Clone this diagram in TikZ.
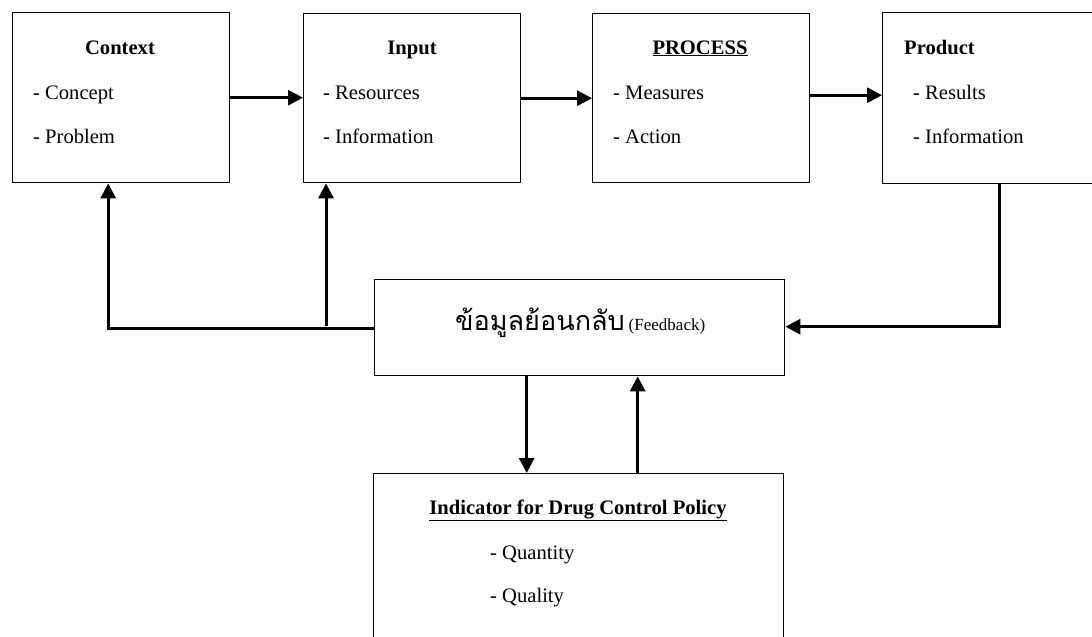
\documentclass[tikz,border=0pt]{standalone}
\usepackage{fontspec}
\setmainfont{Liberation Serif}
\newfontfamily\thaifont[Script=Thai]{Loma}
\usetikzlibrary{arrows.meta}
\begin{document}
\begin{tikzpicture}[x=1pt,y=-1pt,
  box/.style={draw=black, line width=1.4pt, fill=white, inner sep=0pt, anchor=north west},
  arr/.style={line width=3pt, -{Triangle[length=15pt,width=15pt]}},
  lbl/.style={inner sep=0pt, font=\fontsize{20.6}{24}\selectfont},
  ttl/.style={inner sep=0pt, font=\fontsize{20.6}{24}\selectfont\bfseries},
  item/.style={lbl, anchor=base west}
]
\useasboundingbox (0,0) rectangle (1092,637);
\fill[white] (0,0) rectangle (1092,637);
\begin{scope}
\clip (0,0) rectangle (1092,637);
% boxes
\node[box, minimum width=217pt, minimum height=170pt] (ctx) at (12,12) {};
\node[box, minimum width=217pt, minimum height=169pt] (inp) at (303,13) {};
\node[box, minimum width=217pt, minimum height=169pt] (proc) at (592,13) {};
\node[box, minimum width=234pt, minimum height=171pt] (prod) at (882,12) {};
\node[box, minimum width=410pt, minimum height=96pt] (fb) at (374,279) {};
\node[box, minimum width=410pt, minimum height=200pt] (ind) at (373,473) {};
% texts
\node[ttl, anchor=base] (tctx) at (120,54) {Context};
\node[item] (c1) at (33,99) {- Concept};
\node[item] (c2) at (33,143) {- Problem};
\node[ttl, anchor=base] (tinp) at (412,54) {Input};
\node[item] (i1) at (323,99) {- Resources};
\node[item] (i2) at (323,143) {- Information};
\node[ttl, anchor=base] (tproc) at (700,54) {\underline{PROCESS}};
\node[item] (p1) at (613,99) {- Measures};
\node[item] (p2) at (613,143) {- Action};
\node[ttl, anchor=base west] (tprod) at (904,54) {Product};
\node[item] (r1) at (913,99) {- Results};
\node[item] (r2) at (913,143) {- Information};
\node[inner sep=0pt, anchor=base west] (tfb) at (455,330) {{\thaifont\fontsize{27}{30}\selectfont ข้อมูลย้อนกลับ}\hspace{4pt}{\fontsize{17}{20}\selectfont (Feedback)}};
\node[ttl, anchor=base] (tind) at (578,514) {\underline{Indicator for Drug Control Policy}};
\node[item] (q1) at (490,559) {- Quantity};
\node[item] (q2) at (490,602) {- Quality};
% connectors
\draw[arr] (ctx.east) -- (ctx.east -| inp.west);
\draw[arr] (inp.east) -- (inp.east -| proc.west);
\draw[arr] ([yshift=3pt]proc.east) -- ([yshift=3pt]proc.east -| prod.west);
\coordinate (fbl) at ([yshift=-1pt]fb.west);
\coordinate (br) at (326,326);
\draw[arr] (fbl) -| ([xshift=-13pt]ctx.south);
\draw[arr] (br) -- (br |- inp.south);
\coordinate (pd) at ([xshift=0pt]prod.south);
\draw[arr] (pd) |- ([yshift=1pt]fb.east);
\draw[arr] ([xshift=-53pt]fb.south) -- ([xshift=-53pt]fb.south |- ind.north);
\draw[arr] ([xshift=59pt]ind.north) -- ([xshift=59pt]ind.north |- fb.south);
\end{scope}
\end{tikzpicture}
\end{document}
